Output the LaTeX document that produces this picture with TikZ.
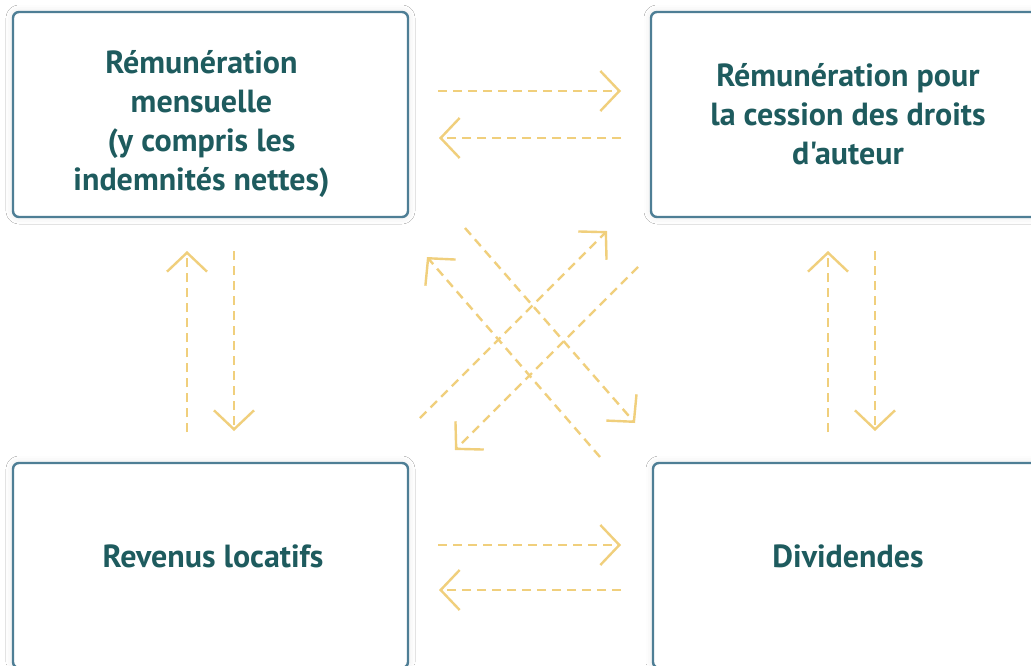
\documentclass[tikz,border=0pt]{standalone}
\usepackage{fontspec}
\newfontfamily\lblfont{PT Sans}
\usetikzlibrary{arrows.meta,shadows.blur}
\definecolor{txt}{HTML}{1E5B5E}
\definecolor{frame}{HTML}{4E7E95}
\definecolor{gold}{HTML}{F0CF7C}
\tikzset{
  box/.style={draw=frame, line width=2.4pt, rounded corners=6pt, fill=white,
    minimum width=395pt, minimum height=205pt, inner sep=0pt,
    blur shadow={shadow xshift=0pt, shadow yshift=0pt, shadow blur radius=7pt, shadow opacity=10}},
  lbl/.style={text=txt, font=\lblfont\bfseries\fontsize{32}{39}\selectfont, align=center, inner sep=0pt},
  flow/.style={draw=gold, line width=2.4pt, dash pattern=on 9pt off 6pt,
    -{Straight Barb[length=19pt,width=40pt,line width=2.4pt]}}
}
\begin{document}
\begin{tikzpicture}[x=1pt,y=-1pt]
\useasboundingbox (0,0) rectangle (1031,665);
\fill[white] (0,0) rectangle (1031,665);
\clip (0,0) rectangle (1031,665);
% boxes
\node[box] (tl) at (210.5,114.5) {};
\node[box] (tr) at (848.5,114.5) {};
\node[box] (bl) at (210.5,565.5) {};
\node[box] (br) at (850.5,565.5) {};
% labels
\node[lbl] (tlt) at (201.5,124) {Rémunération\\mensuelle\\(y compris les\\indemnités nettes)};
\node[lbl] (trt) at (848,114) {Rémunération pour\\la cession des droits\\d'auteur};
\node[lbl] (blt) at (213,556) {Revenus locatifs};
\node[lbl] (brt) at (848,556) {Dividendes};
% coordinates for connectors
\coordinate (h1a) at (438,91);  \coordinate (h1b) at (621,91);
\coordinate (h2a) at (621,138); \coordinate (h2b) at (439,138);
\coordinate (h3a) at (438,545); \coordinate (h3b) at (621,545);
\coordinate (h4a) at (621,590); \coordinate (h4b) at (439,590);
\coordinate (v1a) at (187,432); \coordinate (v1b) at (187,251);
\coordinate (v2a) at (234,251); \coordinate (v2b) at (234,431);
\coordinate (v3a) at (828,432); \coordinate (v3b) at (828,251);
\coordinate (v4a) at (875,251); \coordinate (v4b) at (875,431);
\coordinate (d1a) at (465,228); \coordinate (d1b) at (635,423);
\coordinate (d2a) at (600,457); \coordinate (d2b) at (427,257);
\coordinate (d3a) at (420,418); \coordinate (d3b) at (607,231);
\coordinate (d4a) at (638,267); \coordinate (d4b) at (455,450);
% connectors
\draw[flow] (h1a) -- (h1b);
\draw[flow] (h2a) -- (h2b);
\draw[flow] (h3a) -- (h3b);
\draw[flow] (h4a) -- (h4b);
\draw[flow] (v1a) -- (v1b);
\draw[flow] (v2a) -- (v2b);
\draw[flow] (v3a) -- (v3b);
\draw[flow] (v4a) -- (v4b);
\draw[flow] (d1a) -- (d1b);
\draw[flow] (d2a) -- (d2b);
\draw[flow] (d3a) -- (d3b);
\draw[flow] (d4a) -- (d4b);
\end{tikzpicture}
\end{document}
